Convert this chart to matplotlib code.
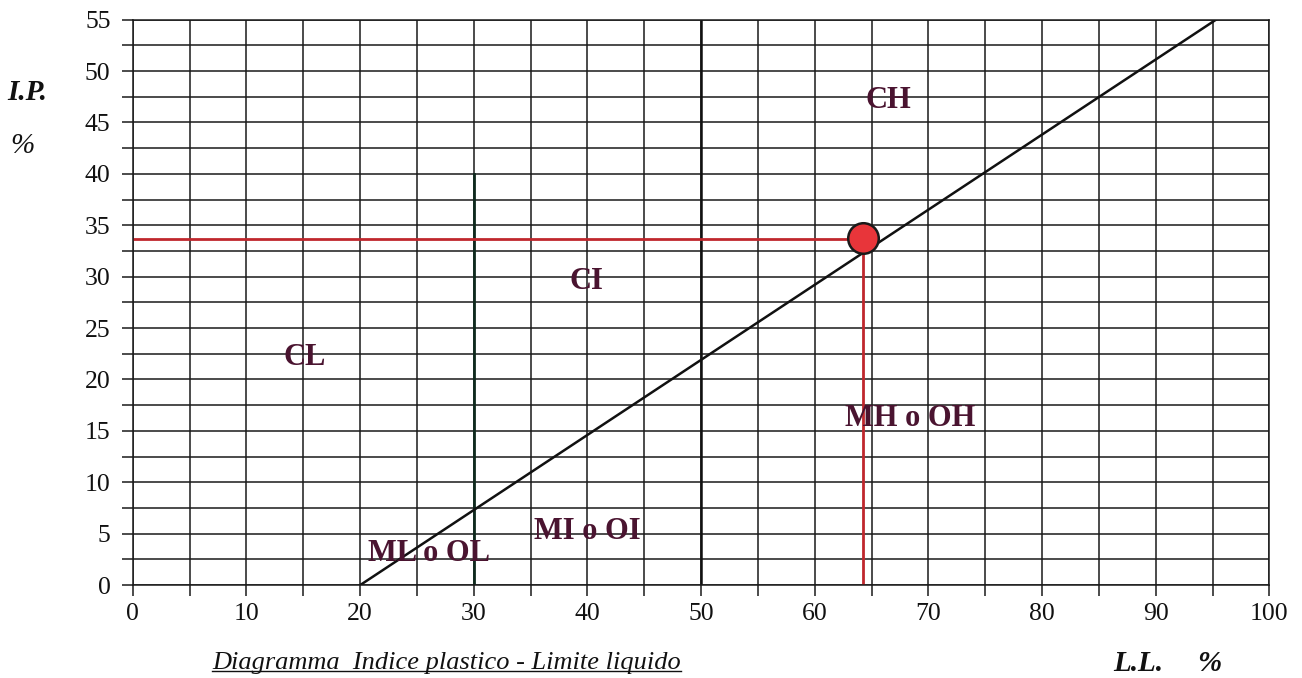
import numpy as np
import matplotlib.pyplot as plt
from matplotlib.lines import Line2D

# data
a_line_ll = [20, 95.3]          # A-line: IP = 0.73 (LL - 20)
a_line_ip = [0, 55]
sample_ll = 64.2
sample_ip = 33.7
zone_names = ["CH", "CI", "CL", "MH o OH", "MI o OI", "ML o OL"]
zone_x = [66.5, 39.9, 15.1, 68.4, 40.0, 26.1]
zone_y = [47.1, 29.5, 22.1, 16.2, 5.2, 3.1]

plt.rcParams['font.family'] = ['Liberation Serif', 'DejaVu Serif']

fig = plt.figure(figsize=(13.02, 6.78), dpi=100)
ax = fig.add_axes([0.102, 0.137, 0.873, 0.834])
ax.set_xlim(0, 100)
ax.set_ylim(0, 55)

# grid
ax.set_xticks(np.arange(0, 101, 10))
ax.set_xticks(np.arange(5, 100, 10), minor=True)
ax.set_yticks(np.arange(0, 56, 5))
ax.set_yticks(np.arange(2.5, 55, 5), minor=True)
ax.grid(True, which='both', color='#1a1a1a', linewidth=1.1)
ax.set_axisbelow(True)
for s in ax.spines.values():
    s.set_color('#1a1a1a')
    s.set_linewidth(1.1)
ax.tick_params(which='both', direction='out', length=8, width=1.1, color='#1a1a1a',
               labelsize=18.5, labelcolor='#111111')
ax.tick_params(axis='x', pad=5)
ax.tick_params(axis='y', pad=8)

# heavier boundary lines
ax.plot([30, 30], [0, 40], color='#0f2a1e', linewidth=2.0)
ax.plot([50, 50], [0, 55], color='#111111', linewidth=1.8)

# A-line
ax.plot(a_line_ll, a_line_ip, color='#111111', linewidth=1.8)

# sample
ax.plot([0, sample_ll], [sample_ip, sample_ip], color='#c0272d', linewidth=2.0)
ax.plot([sample_ll, sample_ll], [0, sample_ip], color='#c0272d', linewidth=2.0)
ax.plot([sample_ll], [sample_ip + 0.1], 'o', markersize=22, markerfacecolor='#e8353a',
        markeredgecolor='#1a1a1a', markeredgewidth=1.8, zorder=5)

for name, x, y in zip(zone_names, zone_x, zone_y):
    ax.text(x, y, name, ha='center', va='center', fontsize=22, fontweight='bold',
            color='#4a1430')

# axis labels
fig.text(0.021, 0.863, "I.P.", fontsize=21, fontweight='bold', style='italic',
         ha='center', va='center', color='#111111')
fig.text(0.017, 0.785, "%", fontsize=21, style='italic', ha='center', va='center',
         color='#111111')
fig.text(0.874, 0.022, "L.L.", fontsize=21, fontweight='bold', style='italic',
         ha='center', va='center', color='#111111')
fig.text(0.929, 0.022, "%", fontsize=21, fontweight='bold', style='italic',
         ha='center', va='center', color='#111111')
cap = fig.text(0.163, 0.022, "Diagramma  Indice plastico - Limite liquido", fontsize=19,
               style='italic', ha='left', va='center', color='#111111')

fig.canvas.draw()
bb = cap.get_window_extent().transformed(fig.transFigure.inverted())
fig.add_artist(Line2D([bb.x0, bb.x1], [bb.y0 + 0.004, bb.y0 + 0.004],
                      transform=fig.transFigure, color='#111111', linewidth=1.0))

fig.savefig('out.png', dpi=100)
